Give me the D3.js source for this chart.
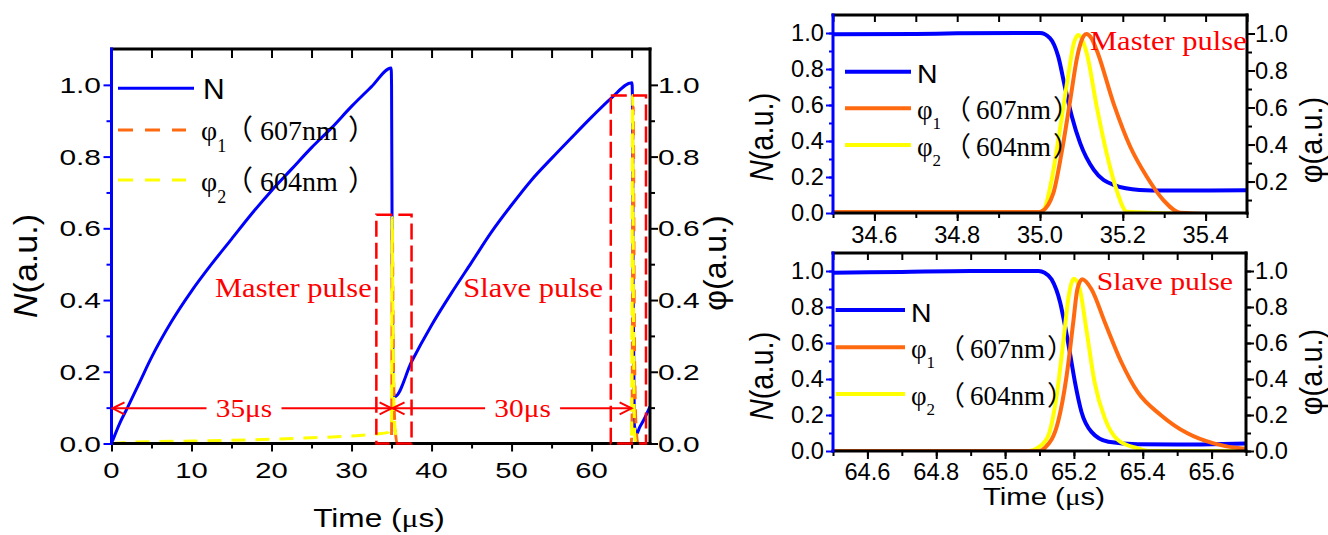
<!DOCTYPE html>
<html>
<head>
<meta charset="utf-8">
<script src="https://cdn.jsdelivr.net/npm/d3@7"></script>
<style>
  html, body { margin: 0; padding: 0; background: #fff; }
  svg { display: block; }
</style>
</head>
<body>
<svg id="chart" width="1328" height="535"></svg>
<script>
// ---- values: [time (µs), value] ----

// full trace 0 - 67 µs
const fullN = [[0, 0], [1, 0.055], [2, 0.1], [3.5, 0.17], [5, 0.24], [7.5, 0.34], [10, 0.425],
  [12.5, 0.5], [15, 0.57], [17.5, 0.64], [20, 0.705], [22.5, 0.765], [25, 0.825], [27.5, 0.88],
  [30, 0.94], [32.5, 0.995], [34.95, 1.047], [35.0, 1.0], [35.08, 0.5], [35.2, 0.15], [35.4, 0.131],
  [37.5, 0.228], [40, 0.33], [42.5, 0.42], [45, 0.505], [47.5, 0.59], [50, 0.665], [52.5, 0.735],
  [55, 0.795], [57.5, 0.853], [60, 0.91], [62.5, 0.964], [65.05, 1.006], [65.1, 0.97], [65.2, 0.4],
  [65.35, 0.05], [65.65, 0.028], [66.0, 0.045], [66.5, 0.065], [67.3, 0.103]];
const fullPhi1 = [[0, 0], [34.9, 0], [35.0, 0.02], [35.1, 0.6], [35.2, 0.3], [35.4, 0.06], [35.7, 0],
  [64.95, 0], [65.05, 0.05], [65.2, 0.94], [65.35, 0.3], [65.55, 0.05], [65.8, 0], [67.3, 0]];
const fullPhi2 = [[0, 0], [2, 0.003], [5, 0.005], [10, 0.007], [15, 0.009], [20, 0.012], [25, 0.016],
  [30, 0.021], [33, 0.026], [34.6, 0.031], [35.0, 0.06], [35.08, 0.63], [35.16, 0.4], [35.3, 0.1],
  [35.5, 0.03], [35.8, 0], [64.9, 0], [65.0, 0.03], [65.12, 0.97], [65.25, 0.3], [65.4, 0.02],
  [65.6, 0], [67.3, 0]];

// master pulse, 34.5 - 35.5 µs
const masterN = [[34.5, 0.993], [34.7, 0.995], [34.8, 0.998], [35.0, 1.0], [35.024, 0.972],
  [35.044, 0.87], [35.06, 0.703], [35.077, 0.536], [35.097, 0.388], [35.13, 0.239], [35.178, 0.156],
  [35.24, 0.128], [35.3, 0.125], [35.4, 0.125], [35.5, 0.126]];
const masterPhi1 = [[34.5, 0.035], [35.0, 0.035], [35.003, 0.037], [35.032, 0.136], [35.052, 0.353],
  [35.073, 0.64], [35.09, 0.875], [35.1, 0.96], [35.112, 0.997], [35.124, 0.975], [35.137, 0.91],
  [35.178, 0.62], [35.218, 0.388], [35.258, 0.226], [35.298, 0.1], [35.339, 0.032], [35.5, 0.02]];
const masterPhi2 = [[34.5, 0.035], [35.0, 0.035], [35.01, 0.05], [35.028, 0.208], [35.048, 0.479],
  [35.069, 0.785], [35.082, 0.95], [35.093, 0.992], [35.103, 0.96], [35.113, 0.893], [35.137, 0.605],
  [35.161, 0.353], [35.185, 0.154], [35.21, 0.037], [35.5, 0.02]];

// slave pulse, 64.5 - 65.7 µs
const slaveN = [[64.5, 0.99], [64.7, 0.995], [64.9, 1.0], [65.097, 1.0], [65.115, 0.99],
  [65.135, 0.954], [65.16, 0.825], [65.174, 0.696], [65.188, 0.549], [65.203, 0.383], [65.222, 0.217],
  [65.251, 0.106], [65.3, 0.051], [65.385, 0.037], [65.5, 0.036], [65.6, 0.038], [65.7, 0.042]];
const slavePhi1 = [[64.5, 0], [65.1, 0], [65.116, 0.018], [65.154, 0.162], [65.179, 0.42],
  [65.198, 0.714], [65.21, 0.899], [65.224, 0.954], [65.251, 0.899], [65.29, 0.714], [65.338, 0.493],
  [65.385, 0.328], [65.453, 0.199], [65.53, 0.098], [65.606, 0.042], [65.683, 0.015], [65.7, 0.013]];
const slavePhi2 = [[64.5, 0], [65.07, 0], [65.097, 0.02], [65.126, 0.088], [65.15, 0.309],
  [65.169, 0.604], [65.185, 0.862], [65.2, 0.957], [65.217, 0.899], [65.236, 0.678], [65.26, 0.383],
  [65.29, 0.181], [65.328, 0.061], [65.385, 0.015], [65.42, 0], [65.7, 0]];

// tick labels
const fullXTicks = [0, 10, 20, 30, 40, 50, 60];
const yTicks = [0, 0.2, 0.4, 0.6, 0.8, 1.0];
const masterXTicks = [34.6, 34.8, 35.0, 35.2, 35.4];
const slaveXTicks = [64.6, 64.8, 65.0, 65.2, 65.4, 65.6];
const masterPhiTicks = [0.2, 0.4, 0.6, 0.8, 1.0];

// legend / annotation texts
const legendNames = ['N', '607nm', '604nm'];
const pulseNames = ['Master pulse', 'Slave pulse'];
const intervalNames = ['35μs', '30μs'];

// ---- styling ----
const BLUE = '#0000ff';
const ORANGE = '#ff6a10';
const YELLOW = '#ffff00';
const RED = '#ff0000';
const SANS = "Arial, 'Liberation Sans', sans-serif";
const SERIF = "'Times New Roman', 'Liberation Serif', serif";
const CJK = "'Times New Roman', 'Liberation Serif', 'Noto Sans CJK SC', serif";

const svg = d3.select('#chart');

/**
 * Text helper: parts can carry italic / size / dy / x, sx stretches horizontally
 */
function txt(parent, x, y, parts, o = {}) {
  const t = parent.append('text')
    .attr('transform', `translate(${x},${y}) scale(${o.sx || 1},1)${o.rot ? ` rotate(${o.rot})` : ''}`)
    .attr('text-anchor', o.anchor || 'start')
    .attr('font-family', o.family || SANS)
    .attr('font-size', o.size || 20)
    .attr('fill', o.fill || '#000');
  if (typeof parts === 'string') parts = [{ t: parts }];
  parts.forEach(p => {
    const s = t.append('tspan').text(p.t);
    if (p.italic) s.attr('font-style', 'italic');
    if (p.family) s.attr('font-family', p.family);
    if (p.size) s.attr('font-size', p.size);
    if (p.dy) s.attr('dy', p.dy);
    if (p.x != null) s.attr('x', p.x);
  });
  return t;
}

/**
 * Tick marks only (labels are drawn with txt so they can be stretched like the original)
 */
function tickAxis(axisFn, scale, values, size, transform, color) {
  const g = svg.append('g').attr('transform', transform);
  g.call(axisFn(scale).tickValues(values).tickSize(size).tickSizeOuter(0).tickFormat(''));
  g.select('.domain').remove();
  g.selectAll('.tick line').attr('stroke', color || '#000').attr('stroke-width', 2);
  return g;
}

/**
 * Scales + clipped plot group for one panel
 */
function buildPanel(cfg) {
  const x = d3.scaleLinear().domain(cfg.xDomain).range([cfg.left, cfg.right]);
  const y = d3.scaleLinear().domain(cfg.yDomain).range([cfg.bottom, cfg.top]);
  const yR = d3.scaleLinear().domain(cfg.yRDomain).range([cfg.bottom, cfg.top]);
  const id = 'clip-' + cfg.name;
  svg.append('clipPath').attr('id', id).append('rect')
    .attr('x', cfg.left).attr('y', cfg.top)
    .attr('width', cfg.right - cfg.left).attr('height', cfg.bottom - cfg.top);
  const plot = svg.append('g').attr('clip-path', `url(#${id})`);
  return { x, y, yR, plot, cfg };
}

function drawCurve(p, data, yScale, color, width, dash) {
  p.plot.append('path').datum(data)
    .attr('d', d3.line().x(d => p.x(d[0])).y(d => yScale(d[1])).curve(d3.curveMonotoneX))
    .attr('fill', 'none')
    .attr('stroke', color)
    .attr('stroke-width', width)
    .attr('stroke-linejoin', 'round')
    .attr('stroke-dasharray', dash || null);
}

function drawFrame(p) {
  const c = p.cfg;
  const line = (x1, y1, x2, y2, color) => svg.append('line')
    .attr('x1', x1).attr('y1', y1).attr('x2', x2).attr('y2', y2)
    .attr('stroke', color).attr('stroke-width', 3).attr('stroke-linecap', 'square');
  line(c.left, c.top, c.right, c.top, '#000');
  line(c.right, c.top, c.right, c.bottom, '#000');
  line(c.left, c.bottom, c.right, c.bottom, '#000');
  line(c.left, c.top, c.left, c.bottom, BLUE);
}

/**
 * φ legend label, pieces placed at fixed offsets (pos = [paren, name, closing paren])
 */
function phiLabel(idx, name, subSize, subDy, pos) {
  return [
    { t: 'φ' },
    { t: String(idx), size: subSize, dy: subDy },
    { t: '（', dy: -subDy, x: pos[0] },
    { t: name, x: pos[1] },
    { t: '）', x: pos[2] }
  ];
}

// ================= overview panel =================
const ov = buildPanel({
  name: 'overview', left: 111.5, right: 650, top: 49, bottom: 443.5,
  xDomain: [0, 67.3], yDomain: [0, 1.1], yRDomain: [0, 1.1]
});

drawCurve(ov, fullN, ov.y, BLUE, 3);
drawCurve(ov, fullPhi1, ov.yR, ORANGE, 3, '14,10');
drawCurve(ov, fullPhi2, ov.yR, YELLOW, 3, '14,10');

// ticks
const ovB = ov.cfg.bottom;
tickAxis(d3.axisBottom, ov.x, fullXTicks, 8, `translate(0,${ovB})`);
tickAxis(d3.axisBottom, ov.x, d3.range(5, 67, 10), 5, `translate(0,${ovB})`);
tickAxis(d3.axisTop, ov.x, d3.range(5, 67, 5), -9, `translate(0,${ov.cfg.top})`);
tickAxis(d3.axisLeft, ov.y, yTicks, 8, `translate(${ov.cfg.left},0)`, BLUE);
tickAxis(d3.axisLeft, ov.y, [0.1, 0.3, 0.5, 0.7, 0.9], 5, `translate(${ov.cfg.left},0)`, BLUE);
tickAxis(d3.axisRight, ov.yR, yTicks, 8, `translate(${ov.cfg.right},0)`);
tickAxis(d3.axisRight, ov.yR, [0.1, 0.3, 0.5, 0.7, 0.9], 5, `translate(${ov.cfg.right},0)`);
drawFrame(ov);

// tick labels
fullXTicks.forEach(v => txt(svg, ov.x(v), 478, String(v), { anchor: 'middle', size: 22.5, sx: 1.3 }));
yTicks.forEach(v => {
  txt(svg, 101, ov.y(v) + 8, v.toFixed(1), { anchor: 'end', size: 22.5, sx: 1.33 });
  txt(svg, 658, ov.yR(v) + 8, v.toFixed(1), { size: 22.5, sx: 1.33 });
});

// axis titles
txt(svg, 379, 527, [{ t: 'Time (' }, { t: 'μ', family: SERIF }, { t: 's)' }],
  { anchor: 'middle', size: 25.5, sx: 1.24 });
txt(svg, 37, 266, [{ t: 'N', italic: true }, { t: '(a.u.)' }], { anchor: 'middle', size: 34, rot: -90 });
txt(svg, 726, 263, 'φ(a.u.)', { anchor: 'middle', size: 32, rot: -90 });

// legend
svg.append('line').attr('x1', 118).attr('x2', 194).attr('y1', 88.3).attr('y2', 88.3)
  .attr('stroke', BLUE).attr('stroke-width', 3);
txt(svg, 203, 98.5, legendNames[0], { size: 30 });
[[ORANGE, 130, 140, 1], [YELLOW, 180, 191, 2]].forEach(([col, ly, by, idx]) => {
  svg.append('line').attr('x1', 118).attr('x2', 186).attr('y1', ly).attr('y2', ly)
    .attr('stroke', col).attr('stroke-width', 3).attr('stroke-dasharray', '15,12');
  txt(svg, 201, by, phiLabel(idx, legendNames[idx], 18, 12, [24, 59, 147]), { family: CJK, size: 28 });
});

// red annotations: pulse boxes
const ann = svg.append('g');
[[33.1, 37.5, 0.638], [62.4, 66.8, 0.97]].forEach(([a, b, top]) => {
  ann.append('rect')
    .attr('x', ov.x(a)).attr('y', ov.y(top))
    .attr('width', ov.x(b) - ov.x(a)).attr('height', ov.y(0) - ov.y(top))
    .attr('fill', 'none').attr('stroke', RED).attr('stroke-width', 2.5)
    .attr('stroke-dasharray', '16,6');
});
txt(ann, 215, 296.7, pulseNames[0], { family: SERIF, size: 28, sx: 1.09, fill: RED });
txt(ann, 463.3, 296.7, pulseNames[1], { family: SERIF, size: 28, sx: 1.09, fill: RED });

// interval arrows
function hArrow(xa, xb, y, headA, headB) {
  ann.append('line').attr('x1', xa).attr('x2', xb).attr('y1', y).attr('y2', y)
    .attr('stroke', RED).attr('stroke-width', 2);
  const head = (xt, dir) => ann.append('path')
    .attr('d', `M${xt + dir * 12},${y - 6}L${xt},${y}L${xt + dir * 12},${y + 6}`)
    .attr('fill', 'none').attr('stroke', RED).attr('stroke-width', 2);
  if (headA) head(xa, 1);
  if (headB) head(xb, -1);
}
const arrowY = ov.y(0.098);
[[0, 35.0, 16.56, intervalNames[0]], [35.0, 65.0, 51.375, intervalNames[1]]].forEach(([a, b, mid, label]) => {
  const cx = ov.x(mid);
  hArrow(ov.x(a) + 1, cx - 37.5, arrowY, true, false);
  hArrow(cx + 37.5, ov.x(b), arrowY, false, true);
  txt(ann, cx, 416.7, label, { family: SERIF, size: 26, sx: 1.13, fill: RED, anchor: 'middle' });
});

// ================= zoomed panels =================
const zooms = [
  { name: 'master', left: 833, right: 1247, top: 15, bottom: 213, xDomain: [34.5, 35.5],
    yDomain: [0, 1.1], yRDomain: [0.03, 1.1], n: masterN, p1: masterPhi1, p2: masterPhi2,
    xTicks: masterXTicks, rTicks: masterPhiTicks, xLabelY: 243.3, legendY: [71.7, 108.3, 145],
    legendX: [845, 911], title: pulseNames[0], titleX: 1090, titleY: 50, titleSize: 28, titleSx: 1.09,
    nLabelY: 137, phiLabelY: 140 },
  { name: 'slave', left: 833, right: 1246, top: 253, bottom: 451, xDomain: [64.5, 65.7],
    yDomain: [0, 1.1], yRDomain: [0, 1.1], n: slaveN, p1: slavePhi1, p2: slavePhi2,
    xTicks: slaveXTicks, rTicks: yTicks, xLabelY: 480, legendY: [310, 347.3, 394],
    legendX: [835.6, 905], title: pulseNames[1], titleX: 1096.7, titleY: 290, titleSize: 25, titleSx: 1.19,
    nLabelY: 376, phiLabelY: 372 }
];

zooms.forEach(z => {
  const p = buildPanel(z);
  drawCurve(p, z.n, p.y, BLUE, 4);
  drawCurve(p, z.p2, p.yR, YELLOW, 4);
  drawCurve(p, z.p1, p.yR, ORANGE, 4);

  const minorX = d3.range(Math.round(z.xDomain[0] * 10), Math.round(z.xDomain[1] * 10) + 1).map(v => v / 10);
  tickAxis(d3.axisBottom, p.x, z.xTicks, 8, `translate(0,${z.bottom})`);
  tickAxis(d3.axisBottom, p.x, minorX, 5, `translate(0,${z.bottom})`);
  tickAxis(d3.axisTop, p.x, minorX, -7, `translate(0,${z.top})`);
  tickAxis(d3.axisLeft, p.y, yTicks, 7, `translate(${z.left},0)`, BLUE);
  tickAxis(d3.axisLeft, p.y, d3.range(1, 11).map(v => v / 10), 4, `translate(${z.left},0)`, BLUE);
  tickAxis(d3.axisRight, p.yR, z.rTicks, 8, `translate(${z.right},0)`);
  tickAxis(d3.axisRight, p.yR, d3.range(0, 11).map(v => v / 10).filter(v => v >= z.yRDomain[0]),
    5, `translate(${z.right},0)`);
  drawFrame(p);

  z.xTicks.forEach(v => txt(svg, p.x(v), z.xLabelY, v.toFixed(1), { anchor: 'middle', size: 23, sx: 1.03 }));
  yTicks.forEach(v => txt(svg, 824, p.y(v) + 8, v.toFixed(1), { anchor: 'end', size: 23, sx: 1.03 }));
  z.rTicks.forEach(v => txt(svg, 1255, p.yR(v) + 8, v.toFixed(1), { size: 23, sx: 1.03 }));

  txt(svg, 773, z.nLabelY, [{ t: 'N', italic: true }, { t: '(a.u.)' }],
    { anchor: 'middle', size: 29, sx: 1.15, rot: -90 });
  txt(svg, 1322, z.phiLabelY, 'φ(a.u.)', { anchor: 'middle', size: 29, sx: 1.1, rot: -90 });

  // legend
  const [lx1, lx2] = z.legendX;
  [[BLUE, z.legendY[0]], [ORANGE, z.legendY[1]], [YELLOW, z.legendY[2]]].forEach(([col, ly]) => {
    svg.append('line').attr('x1', lx1).attr('x2', lx2).attr('y1', ly).attr('y2', ly)
      .attr('stroke', col).attr('stroke-width', 4);
  });
  const tx = lx2 + 6;
  txt(svg, tx, z.legendY[0] + 11.5, legendNames[0], { size: 25, sx: 1.14 });
  txt(svg, tx, z.legendY[1] + 11, phiLabel(1, legendNames[1], 17, 10, [27, 59, 136]), { family: CJK, size: 27 });
  txt(svg, tx, z.legendY[2] + 11, phiLabel(2, legendNames[2], 17, 10, [27, 59, 136]), { family: CJK, size: 27 });

  txt(svg, z.titleX, z.titleY, z.title, { family: SERIF, size: z.titleSize, sx: z.titleSx, fill: RED });
});

// bottom time axis title of the zoom column
txt(svg, 1044, 505, [{ t: 'Time (' }, { t: 'μ', family: SERIF }, { t: 's)' }],
  { anchor: 'middle', size: 24, sx: 1.22 });
</script>
</body>
</html>
